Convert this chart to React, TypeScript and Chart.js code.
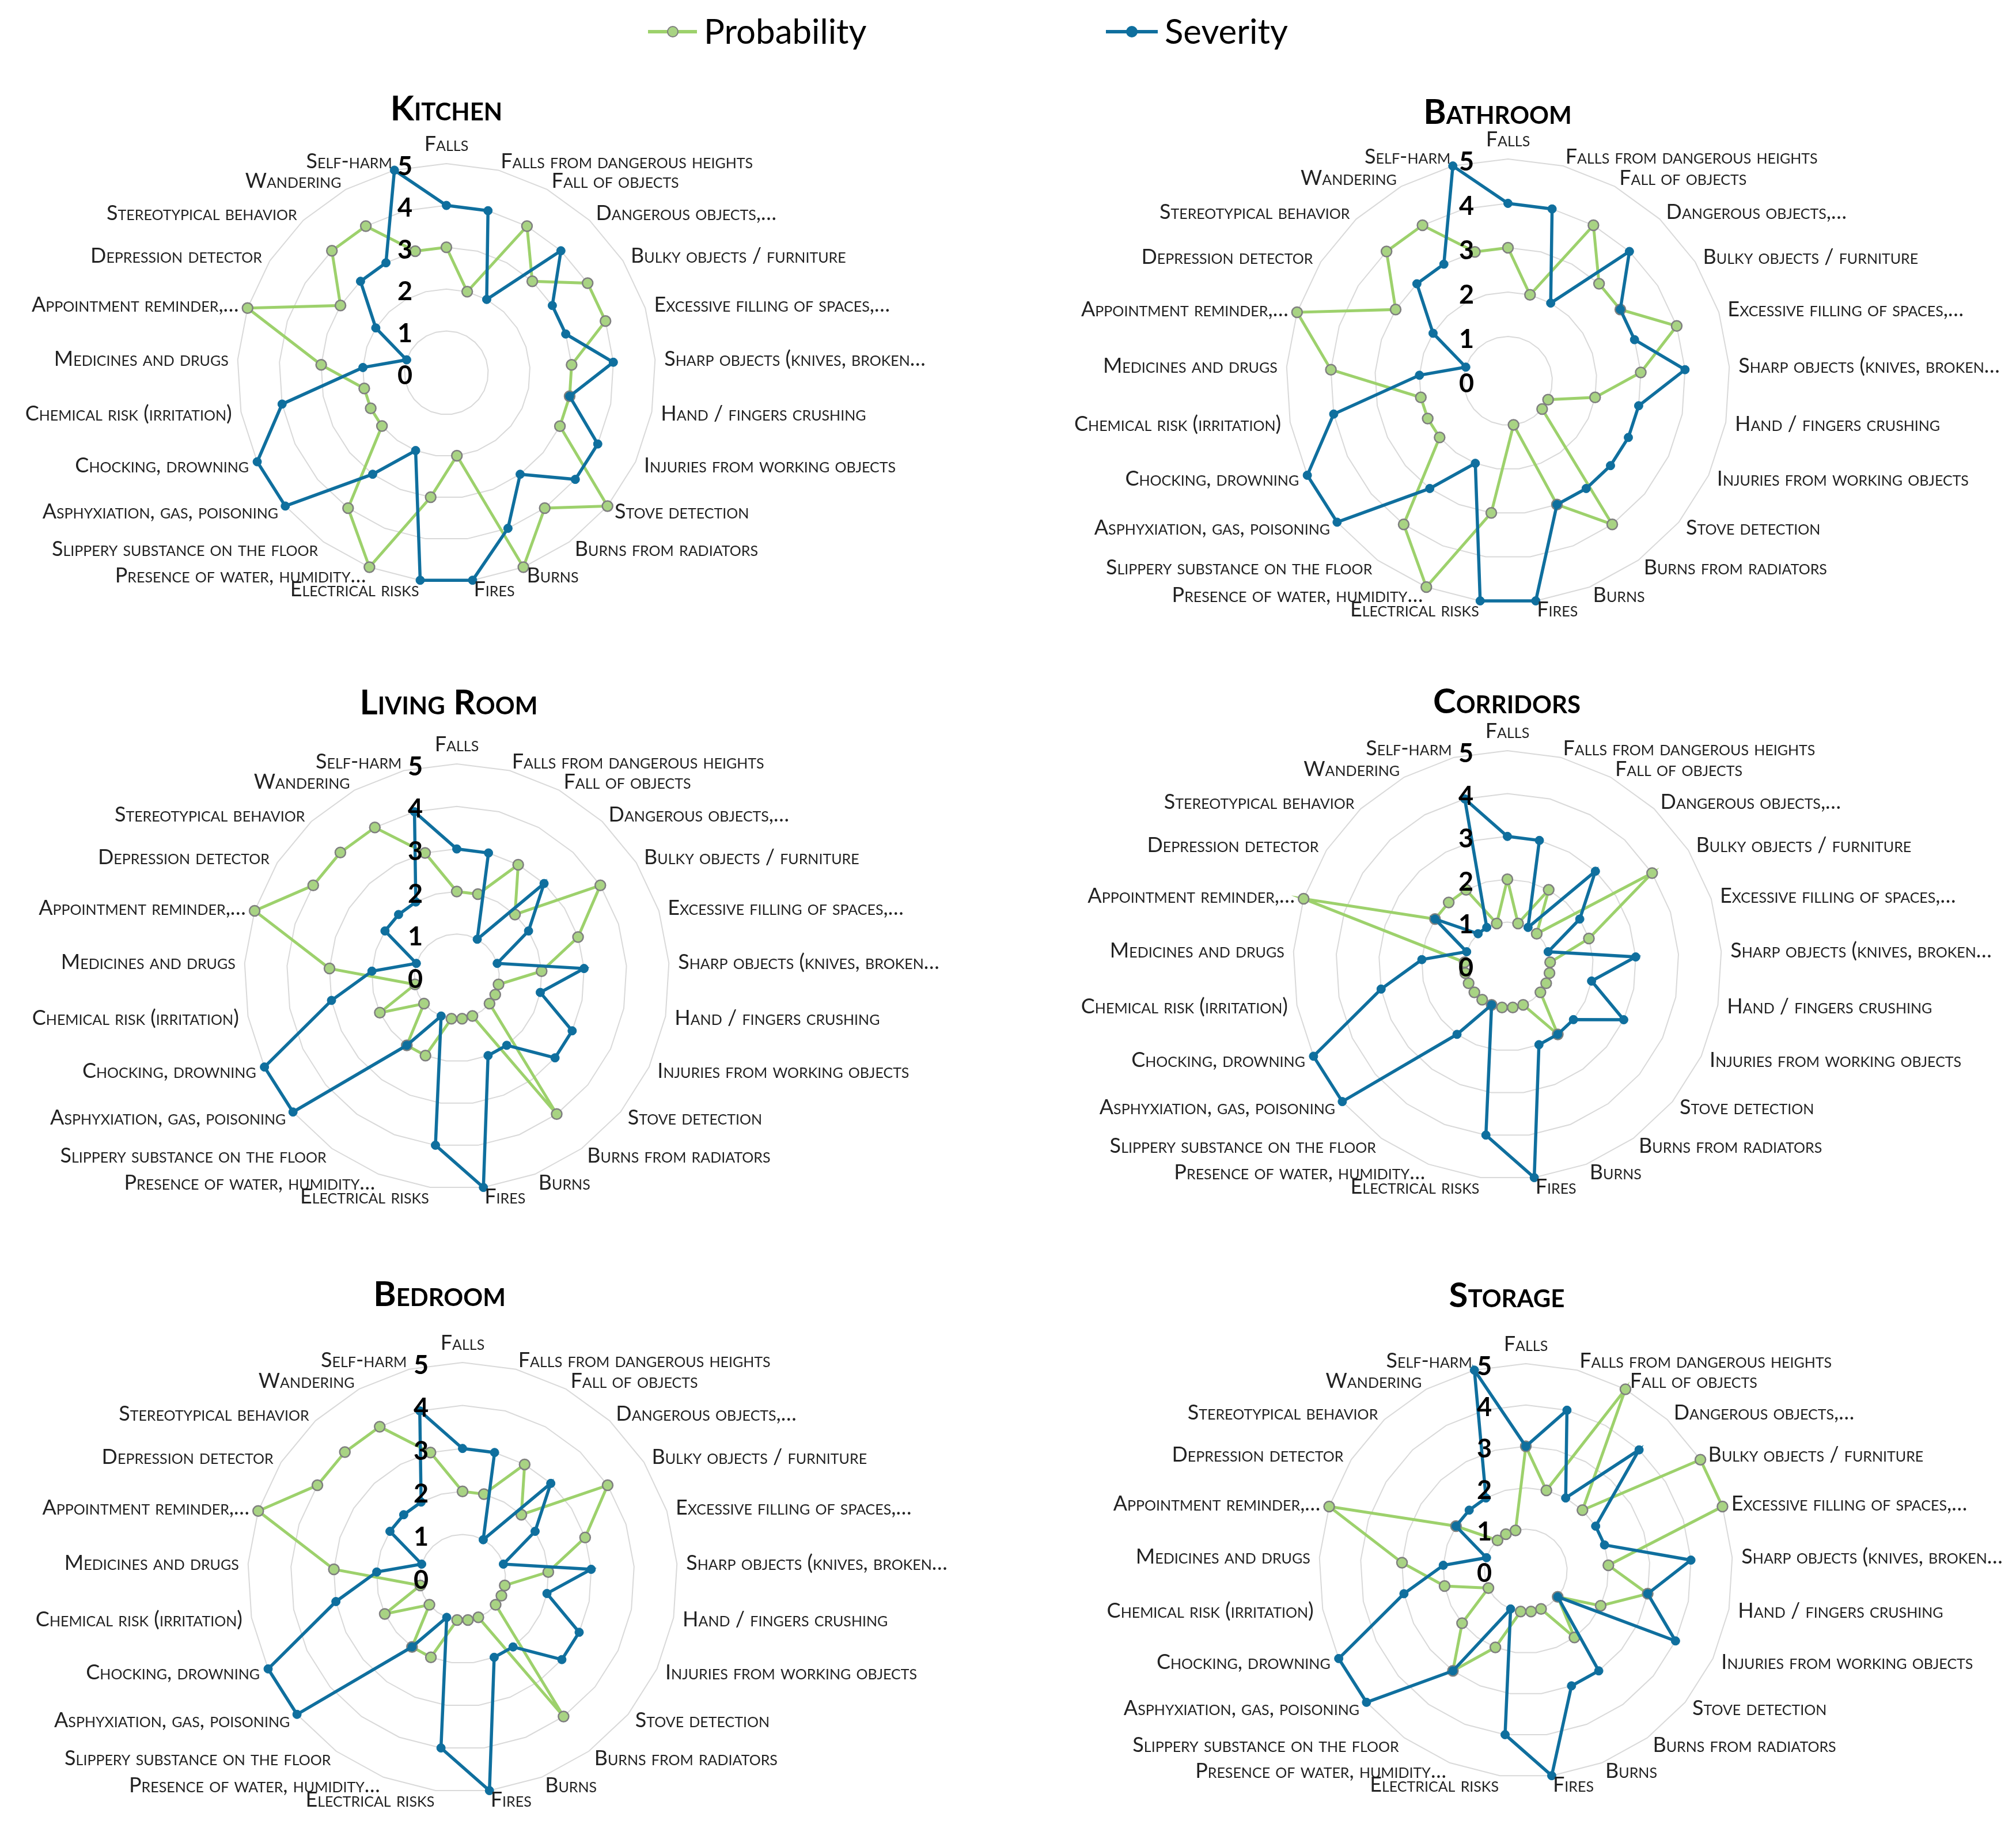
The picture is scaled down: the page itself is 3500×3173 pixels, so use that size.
import React, { useEffect, useRef } from 'react';
import { Chart, registerables } from 'chart.js';

Chart.register(...registerables);

// ---------- DATA ----------
const categories = [
  'Falls',
  'Falls from dangerous heights',
  'Fall of objects',
  'Dangerous objects,…',
  'Bulky objects / furniture',
  'Excessive filling of spaces,…',
  'Sharp objects (knives, broken…',
  'Hand / fingers crushing',
  'Injuries from working objects',
  'Stove detection',
  'Burns from radiators',
  'Burns',
  'Fires',
  'Electrical risks',
  'Presence of water, humidity…',
  'Slippery substance on the floor',
  'Asphyxiation, gas, poisoning',
  'Chocking, drowning',
  'Chemical risk (irritation)',
  'Medicines and drugs',
  'Appointment reminder,…',
  'Depression detector',
  'Stereotypical behavior',
  'Wandering',
  'Self-harm',
];

const tickLabels = ['0', '1', '2', '3', '4', '5'];
const seriesNames = ['Probability', 'Severity'];

const kitchenProbability = [3, 2, 4, 3, 4, 4, 3, 3, 3, 5, 4, 5, 2, 3, 5, 4, 2, 2, 2, 3, 5, 3, 4, 4, 3];
const kitchenSeverity = [4, 4, 2, 4, 3, 3, 4, 3, 4, 4, 3, 4, 5, 5, 2, 3, 5, 5, 4, 2, 1, 2, 3, 3, 5];

const bathroomProbability = [3, 2, 4, 3, 3, 4, 3, 2, 1, 1, 4, 3, 1, 3, 5, 4, 2, 2, 2, 4, 5, 3, 4, 4, 3];
const bathroomSeverity = [4, 4, 2, 4, 3, 3, 4, 3, 3, 3, 3, 3, 5, 5, 2, 3, 5, 5, 4, 2, 1, 2, 3, 3, 5];

const livingProbability = [2, 2, 3, 2, 4, 3, 2, 1, 1, 1, 4, 1, 1, 1, 2, 2, 1, 2, 1, 3, 5, 4, 4, 4, 3];
const livingSeverity = [3, 3, 1, 3, 2, 1, 3, 2, 3, 3, 2, 2, 5, 4, 1, 2, 5, 5, 3, 2, 1, 2, 2, 2, 4];

const corridorsProbability = [2, 1, 2, 1, 4, 2, 1, 1, 1, 1, 2, 1, 1, 1, 1, 1, 1, 1, 1, 1, 5, 2, 2, 2, 1];
const corridorsSeverity = [3, 3, 1, 3, 2, 1, 3, 2, 3, 2, 2, 2, 5, 4, 1, 2, 5, 5, 3, 2, 1, 2, 1, 1, 4];

const bedroomProbability = [2, 2, 3, 2, 4, 3, 2, 1, 1, 1, 4, 1, 1, 1, 2, 2, 1, 2, 1, 3, 5, 4, 4, 4, 3];
const bedroomSeverity = [3, 3, 1, 3, 2, 1, 3, 2, 3, 3, 2, 2, 5, 4, 1, 2, 5, 5, 3, 2, 1, 2, 2, 2, 4];

const storageProbability = [3, 2, 5, 2, 5, 5, 2, 3, 2, 1, 2, 1, 1, 1, 2, 3, 2, 1, 2, 3, 5, 2, 1, 1, 1];
const storageSeverity = [3, 4, 2, 4, 2, 2, 4, 3, 4, 1, 3, 3, 5, 4, 1, 3, 5, 5, 3, 2, 1, 2, 2, 2, 5];

// ---------- STYLE / LAYOUT ----------
const FONT = 'Lato, "Open Sans", "DejaVu Sans", sans-serif';
const GREEN = '#9dd16c';
const GREEN_POINT = '#a8d383';
const BLUE = '#0f6f9e';

type Panel = {
  title: string;
  prob: number[];
  sev: number[];
  cx: number;
  cy: number;
  R: number;
  titleX: number;
  titleY: number;
  box: { x: number; y: number; w: number; h: number };
};

const COLS = [
  { x: 0, w: 1750 },
  { x: 1750, w: 1750 },
];
const ROWS = [
  { y: 110, h: 1055 },
  { y: 1165, h: 1030 },
  { y: 2195, h: 978 },
];

const box = (c: number, r: number) => ({ x: COLS[c].x, y: ROWS[r].y, w: COLS[c].w, h: ROWS[r].h });

const panels: Panel[] = [
  { title: 'Kitchen', prob: kitchenProbability, sev: kitchenSeverity, cx: 775, cy: 647, R: 363, titleX: 775, titleY: 190, box: box(0, 0) },
  { title: 'Bathroom', prob: bathroomProbability, sev: bathroomSeverity, cx: 2618, cy: 661, R: 385, titleX: 2600, titleY: 196, box: box(1, 0) },
  { title: 'Living Room', prob: livingProbability, sev: livingSeverity, cx: 793, cy: 1695, R: 369, titleX: 779, titleY: 1221, box: box(0, 1) },
  { title: 'Corridors', prob: corridorsProbability, sev: corridorsSeverity, cx: 2617, cy: 1675, R: 372, titleX: 2616, titleY: 1219, box: box(1, 1) },
  { title: 'Bedroom', prob: bedroomProbability, sev: bedroomSeverity, cx: 803, cy: 2738, R: 373, titleX: 763, titleY: 2248, box: box(0, 2) },
  { title: 'Storage', prob: storageProbability, sev: storageSeverity, cx: 2649, cy: 2726, R: 359, titleX: 2616, titleY: 2250, box: box(1, 2) },
];

const overlayPlugin = {
  id: 'overlay',
  afterDraw(chart: any, _args: any, opts: any) {
    const ctx = chart.ctx as CanvasRenderingContext2D;
    const r = chart.scales.r;
    ctx.save();
    // title
    ctx.fillStyle = '#000';
    ctx.font = `small-caps bold ${opts.titleSize}px ${FONT}`;
    ctx.textAlign = 'center';
    ctx.textBaseline = 'middle';
    ctx.fillText(opts.title, opts.titleX, opts.titleY);

    // point labels
    ctx.font = `small-caps ${opts.labelSize}px ${FONT}`;
    ctx.fillStyle = '#222';
    const labels: string[] = chart.data.labels;
    labels.forEach((lab, i) => {
      const deg = ((r.getIndexAngle(i) * 180) / Math.PI + 360) % 360;
      const p = r.getPointPosition(i, r.drawingArea + opts.labelPad);
      let align: CanvasTextAlign = 'center';
      let y = p.y;
      if (deg < 0.5 || deg > 359.5) {
        y = p.y - opts.labelSize * 0.5;
      } else if (Math.abs(deg - 180) < 0.5) {
        y = p.y + opts.labelSize * 0.5;
      } else if (deg < 180) {
        align = 'left';
      } else {
        align = 'right';
      }
      ctx.textAlign = align;
      ctx.fillText(lab, p.x, y);
    });

    // tick labels
    ctx.font = `bold ${opts.tickSize}px ${FONT}`;
    ctx.fillStyle = '#000';
    ctx.textAlign = 'center';
    tickLabels.forEach((t) => {
      const v = Number(t);
      const y = r.yCenter - r.getDistanceFromCenterForValue(v) + 5;
      ctx.fillText(t, r.xCenter - 72, y);
    });
    ctx.restore();
  },
};

function RadarPanel({ panel }: { panel: Panel }) {
  const ref = useRef<HTMLCanvasElement | null>(null);
  useEffect(() => {
    if (!ref.current) return;
    const { box: b, cx, cy, R } = panel;
    const lx = cx - b.x;
    const ly = cy - b.y;
    const chart = new Chart(ref.current, {
      type: 'radar',
      data: {
        labels: categories,
        datasets: [
          {
            label: seriesNames[0],
            data: panel.prob,
            borderColor: GREEN,
            borderWidth: 5,
            backgroundColor: GREEN_POINT,
            pointBackgroundColor: GREEN_POINT,
            pointBorderColor: '#7f7f7f',
            pointBorderWidth: 2.5,
            pointRadius: 9,
            fill: false,
            order: 1,
          },
          {
            label: seriesNames[1],
            data: panel.sev,
            borderColor: BLUE,
            borderWidth: 5.5,
            backgroundColor: BLUE,
            pointBackgroundColor: BLUE,
            pointBorderColor: BLUE,
            pointBorderWidth: 1,
            pointRadius: 7.5,
            fill: false,
            order: 0,
          },
        ],
      },
      options: {
        animation: false,
        responsive: false,
        devicePixelRatio: 1,
        layout: {
          padding: {
            left: lx - R,
            right: b.w - (lx + R),
            top: ly - R,
            bottom: b.h - (ly + R),
          },
        },
        plugins: {
          legend: { display: false },
          tooltip: { enabled: false },
          title: { display: false },
          // @ts-ignore
          overlay: {
            title: panel.title,
            titleX: panel.titleX - b.x,
            titleY: panel.titleY - b.y,
            titleSize: 60,
            labelSize: 36,
            labelPad: 16,
            tickSize: 45,
          },
        },
        scales: {
          r: {
            min: 0,
            max: 5,
            beginAtZero: true,
            ticks: { display: false, stepSize: 1 },
            pointLabels: { display: false },
            angleLines: { display: false },
            grid: { color: '#d9d9d9', lineWidth: 2, circular: false },
          },
        },
      },
      plugins: [overlayPlugin],
    });
    return () => chart.destroy();
  }, [panel]);
  const { box: b } = panel;
  return (
    <canvas
      ref={ref}
      width={b.w}
      height={b.h}
      style={{ position: 'absolute', left: b.x, top: b.y, width: b.w, height: b.h }}
    />
  );
}

function LegendItem({ x, lineW, color, pointColor, pointBorder, text }: any) {
  return (
    <div style={{ position: 'absolute', left: x, top: 10, height: 90, display: 'flex', alignItems: 'center' }}>
      <div style={{ position: 'relative', width: lineW, height: 24 }}>
        <div style={{ position: 'absolute', left: 0, top: 9, width: lineW, height: 6, background: color }} />
        <div
          style={{
            position: 'absolute',
            left: lineW / 2 - 10,
            top: 2,
            width: 16,
            height: 16,
            borderRadius: '50%',
            background: pointColor,
            border: `2.5px solid ${pointBorder}`,
          }}
        />
      </div>
      <span style={{ marginLeft: 12, fontFamily: FONT, fontSize: 60, lineHeight: 1, color: '#000', position: 'relative', top: -2 }}>
        {text}
      </span>
    </div>
  );
}

export default function App() {
  useEffect(() => {
    document.body.style.margin = '0';
  }, []);
  return (
    <div style={{ position: 'absolute', left: 0, top: 0, width: 3500, height: 3173, background: '#fff', overflow: 'hidden' }}>
      <LegendItem x={1125} lineW={85} color={GREEN} pointColor={GREEN_POINT} pointBorder="#7f7f7f" text={seriesNames[0]} />
      <LegendItem x={1920} lineW={90} color={BLUE} pointColor={BLUE} pointBorder={BLUE} text={seriesNames[1]} />
      {panels.map((p) => (
        <RadarPanel key={p.title} panel={p} />
      ))}
    </div>
  );
}
